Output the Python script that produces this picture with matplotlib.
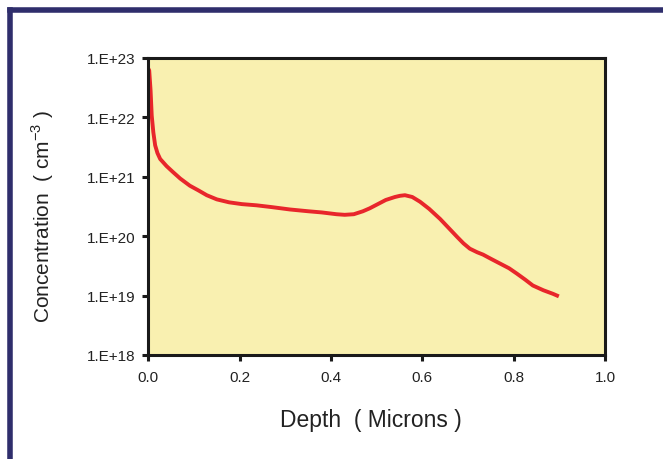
import math

import matplotlib
matplotlib.use("Agg")
import matplotlib.pyplot as plt
from matplotlib.lines import Line2D
from matplotlib.ticker import FixedLocator, FuncFormatter

plt.rcParams["font.family"] = ["Liberation Sans", "DejaVu Sans"]

# depth (microns) and log10 concentration
depth = [0.000, 0.002, 0.005, 0.0075, 0.011, 0.015, 0.020, 0.026, 0.040, 0.054,
         0.070, 0.091, 0.110, 0.128, 0.150, 0.177, 0.205, 0.237, 0.270, 0.310,
         0.350, 0.380, 0.412, 0.430, 0.450, 0.470, 0.485, 0.505, 0.520, 0.540,
         0.551, 0.562, 0.578, 0.595, 0.615, 0.639, 0.660, 0.676, 0.690, 0.704,
         0.720, 0.733, 0.750, 0.770, 0.790, 0.807, 0.825, 0.842, 0.865, 0.886,
         0.895]
log_conc = [22.82, 22.79, 22.45, 22.03, 21.75, 21.53, 21.40, 21.30, 21.18, 21.08,
            20.97, 20.85, 20.77, 20.69, 20.62, 20.57, 20.54, 20.52, 20.49, 20.45,
            20.42, 20.40, 20.37, 20.36, 20.37, 20.42, 20.47, 20.55, 20.61, 20.66,
            20.68, 20.69, 20.66, 20.58, 20.46, 20.29, 20.12, 19.99, 19.88, 19.79,
            19.73, 19.69, 19.62, 19.54, 19.46, 19.37, 19.27, 19.17, 19.09, 19.03,
            19.00]
conc = [10 ** v for v in log_conc]

y_ticks = [1e18, 1e19, 1e20, 1e21, 1e22, 1e23]
x_ticks = [0.0, 0.2, 0.4, 0.6, 0.8, 1.0]

INK = "#1a1a1a"
TEXT = "#222222"
PAPER = "#f9f0b0"
RED = "#e8262b"
NAVY = "#2f2e6c"

fig = plt.figure(figsize=(6.63, 4.60), dpi=100)
fig.patch.set_facecolor("white")

# navy frame on the top and left edge of the panel
fig.add_artist(Line2D([9.5 / 663, 9.5 / 663], [0, 1 - 10.5 / 460],
                      transform=fig.transFigure, color=NAVY, lw=4.0,
                      solid_capstyle="projecting"))
fig.add_artist(Line2D([9.5 / 663, 1], [1 - 10.5 / 460, 1 - 10.5 / 460],
                      transform=fig.transFigure, color=NAVY, lw=4.0,
                      solid_capstyle="projecting"))

ax = fig.add_axes([148.3 / 663, 1 - 356 / 460, 456.7 / 663, 297 / 460])
ax.set_facecolor(PAPER)
ax.plot(depth, conc, color=RED, lw=2.8, solid_joinstyle="round")

ax.set_yscale("log")
ax.set_xlim(0, 1.0)
ax.set_ylim(1e18, 1e23)
ax.yaxis.set_major_locator(FixedLocator(y_ticks))
ax.yaxis.set_minor_locator(FixedLocator([]))
ax.yaxis.set_major_formatter(FuncFormatter(lambda v, p: "1.E+%d" % round(math.log10(v))))
ax.set_xticks(x_ticks)
ax.xaxis.set_major_formatter(FuncFormatter(lambda v, p: "%.1f" % v))

for side in ax.spines.values():
    side.set_linewidth(2.2)
    side.set_color(INK)

ax.tick_params(axis="both", direction="out", length=4, width=2.2, color=INK,
               labelsize=11, labelcolor=TEXT)
ax.tick_params(axis="y", pad=5)
ax.tick_params(axis="x", pad=7)

ax.text(0.4866, -0.2155, "Depth  ( Microns )", transform=ax.transAxes,
        ha="center", va="center", fontsize=16.5, color=TEXT)
ax.text(-0.2306, 0.471, "Concentration  ( cm$^{\\mathregular{-3}}$ )",
        transform=ax.transAxes, ha="center", va="center", rotation=90,
        fontsize=15, color=TEXT)

fig.savefig("out.png", dpi=100)
